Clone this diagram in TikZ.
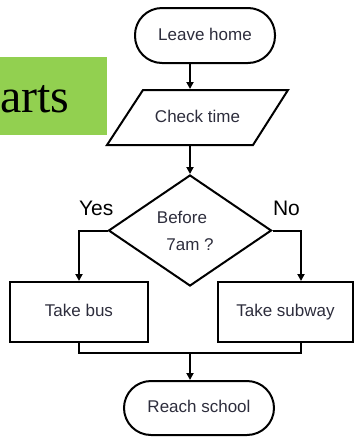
\documentclass[tikz,border=0pt]{standalone}
\usepackage{fontspec}
\setmainfont{Liberation Sans}
\newfontfamily\artsfont{Liberation Serif}
\usetikzlibrary{shapes.geometric,arrows.meta}
\definecolor{chartgreen}{RGB}{146,208,80}
\definecolor{txt}{RGB}{45,45,60}
\begin{document}
\begin{tikzpicture}[x=1pt,y=-1pt,
  line width=2pt,
  lbl/.style={font=\fontsize{17}{27}\selectfont, text=txt},
  fixedtext/.style={text height=12.5pt, text depth=3.5pt},
  terminal/.style={draw, rectangle, rounded corners=27pt, lbl, fixedtext, inner sep=0pt},
  procbox/.style={draw, rectangle, lbl, fixedtext, inner sep=0pt},
  decision/.style={draw, diamond, lbl, inner sep=0pt, align=center},
  yesno/.style={font=\fontsize{21}{21}\selectfont, anchor=base west, inner sep=0pt},
  arrow/.style={-{Triangle[length=7pt,width=7pt]}}
]
\useasboundingbox (0,0) rectangle (355,437);
% green title fragment
\fill[chartgreen] (0,57) rectangle (107,135);
\node[anchor=base west, inner sep=0pt, font=\artsfont\fontsize{48}{48}\selectfont] (title) at (-1,112) {arts};

\coordinate (mid) at (190,0);
\coordinate (rx) at (301,0);

\node[terminal, minimum width=140pt, minimum height=55pt] (leave) at (205,35.5) {Leave home};

% parallelogram drawn directly, with a named node for its text
\draw (143,90) -- (288,90) -- (253,145) -- (107,145) -- cycle;
\node[lbl, fixedtext, rectangle, minimum width=110pt, minimum height=55pt, inner sep=0pt] (check) at (197.5,117.5) {Check time};

\node[decision, minimum width=163pt, minimum height=111pt] (dia) at (190,230.5)
  {Before\kern16pt\\7am ?};

\node[yesno] (yes) at (78,215) {Yes};
\node[yesno] (no) at (272,215) {No};

\node[procbox, minimum width=138pt, minimum height=60pt] (bus) at (79,312) {Take bus};
\node[procbox, minimum width=135pt, minimum height=60pt] (subway) at (285.5,312) {Take subway};

\coordinate (join) at (190,353);

\node[terminal, minimum width=150pt, minimum height=54pt] (reach) at (199,408) {Reach school};

% connectors
\draw[arrow] (leave.south -| mid) -- (check.north -| mid);
\draw[arrow] (check.south -| mid) -- (dia.north);
\draw[arrow] (dia.west) -| (bus.north);
\draw[arrow] (dia.east) -| (subway.north -| rx);
\draw (bus.south) |- (join) -| (subway.south -| rx);
\draw[arrow] (join) -- (reach.north -| mid);
\end{tikzpicture}
\end{document}
